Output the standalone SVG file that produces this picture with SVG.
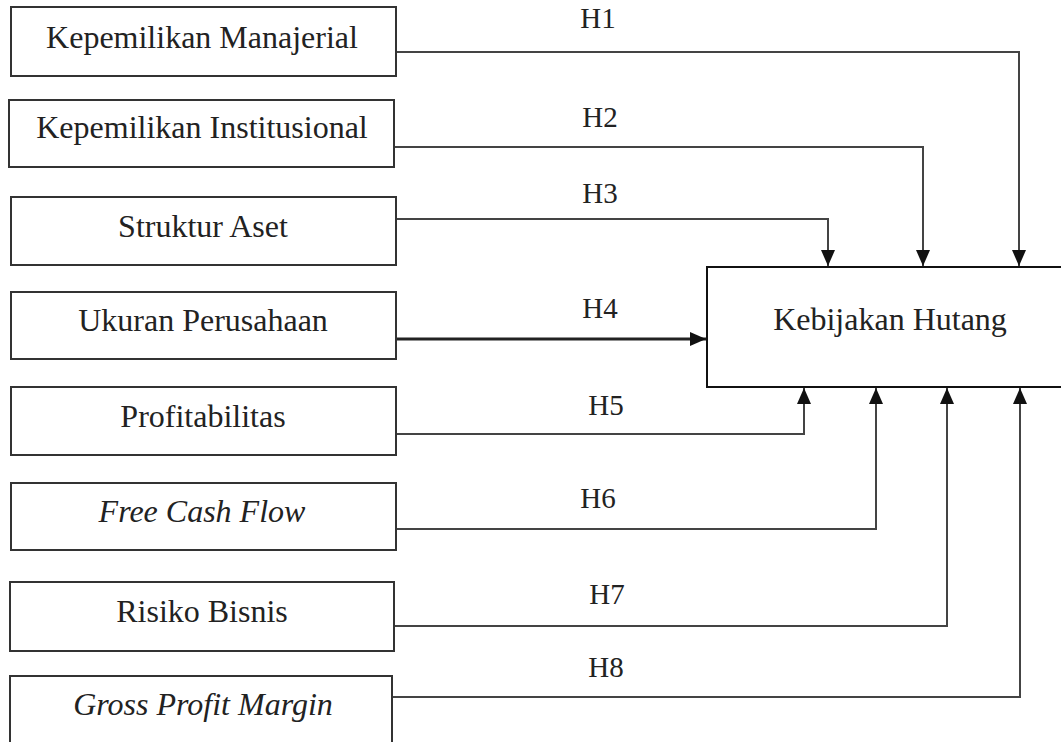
<svg xmlns="http://www.w3.org/2000/svg" width="1061" height="742" viewBox="0 0 1061 742">
<style>
.box{fill:#fff;stroke:#333;stroke-width:2}
.main{fill:#fff;stroke:#111;stroke-width:2}
.t{font-family:"Liberation Serif","Times New Roman",serif;font-size:32px;fill:#222;text-anchor:middle}
.it{font-style:italic}
.h{font-family:"Liberation Serif","Times New Roman",serif;font-size:29px;fill:#222;text-anchor:middle}
.c{fill:none;stroke:#444;stroke-width:2}
.c4{fill:none;stroke:#222;stroke-width:3}
</style>
<defs>
<marker id="arr" viewBox="0 0 16 14" refX="16" refY="7" markerWidth="16" markerHeight="14" markerUnits="userSpaceOnUse" orient="auto">
<path d="M0,0 L16,7 L0,14 Z" fill="#111"/>
</marker>
</defs>
<rect width="1061" height="742" fill="#fff"/>
<g id="connectors">
<path class="c" d="M396,52 H1019 V266" marker-end="url(#arr)"/>
<path class="c" d="M394,147 H923 V266" marker-end="url(#arr)"/>
<path class="c" d="M396,219 H828 V266" marker-end="url(#arr)"/>
<path class="c4" d="M396,339 H706" marker-end="url(#arr)"/>
<path class="c" d="M396,434 H804 V388" marker-end="url(#arr)"/>
<path class="c" d="M396,529 H876 V388" marker-end="url(#arr)"/>
<path class="c" d="M394,626 H947 V388" marker-end="url(#arr)"/>
<path class="c" d="M392,697 H1020 V388" marker-end="url(#arr)"/>
<text class="h" x="598" y="28">H1</text>
<text class="h" x="600" y="127">H2</text>
<text class="h" x="600" y="203">H3</text>
<text class="h" x="600" y="318">H4</text>
<text class="h" x="606" y="415">H5</text>
<text class="h" x="598" y="508">H6</text>
<text class="h" x="607" y="604">H7</text>
<text class="h" x="606" y="677">H8</text>
</g>
<g id="n1"><rect class="box" x="11" y="7" width="385" height="69"/><text class="t" x="202" y="48">Kepemilikan Manajerial</text></g>
<g id="n2"><rect class="box" x="9" y="100" width="385" height="67"/><text class="t" x="202" y="138">Kepemilikan Institusional</text></g>
<g id="n3"><rect class="box" x="11" y="197" width="385" height="68"/><text class="t" x="203" y="237">Struktur Aset</text></g>
<g id="n4"><rect class="box" x="11" y="292" width="385" height="67"/><text class="t" x="203" y="331">Ukuran Perusahaan</text></g>
<g id="n5"><rect class="box" x="11" y="387" width="385" height="68"/><text class="t" x="203" y="427">Profitabilitas</text></g>
<g id="n6"><rect class="box" x="11" y="483" width="385" height="67"/><text class="t it" x="202" y="522">Free Cash Flow</text></g>
<g id="n7"><rect class="box" x="10" y="582" width="384" height="69"/><text class="t" x="202" y="622">Risiko Bisnis</text></g>
<g id="n8"><rect class="box" x="10" y="676" width="382" height="80"/><text class="t it" x="203" y="715">Gross Profit Margin</text></g>
<g id="target"><rect class="main" x="707" y="267" width="370" height="120"/><text class="t" x="890" y="330">Kebijakan Hutang</text></g>
</svg>
